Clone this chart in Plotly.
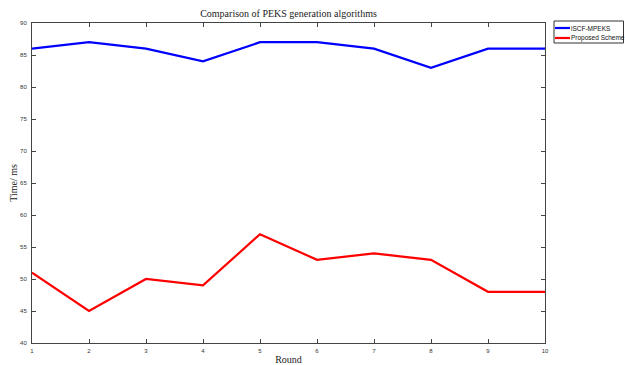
import plotly.graph_objects as go

rounds = [1, 2, 3, 4, 5, 6, 7, 8, 9, 10]
iscf_mpeks = [86, 87, 86, 84, 87, 87, 86, 83, 86, 86]
proposed = [51, 45, 50, 49, 57, 53, 54, 53, 48, 48]
y_ticks = [40, 45, 50, 55, 60, 65, 70, 75, 80, 85, 90]
series_names = ["iSCF-MPEKS", "Proposed Scheme"]
series_colors = ["#0000ff", "#ff0000"]

W, H = 625, 365
L, T = 32, 23
R, B = 625 - 545, 365 - 343
PW, PH = W - L - R, H - T - B

def px_x(p):  # pixel -> paper x
    return (p - L) / PW

def px_y(p):  # pixel -> paper y
    return (H - B - p) / PH

fig = go.Figure()
for name, vals, col in zip(series_names, [iscf_mpeks, proposed], series_colors):
    fig.add_trace(go.Scatter(x=rounds, y=vals, mode="lines", name=name,
                             line=dict(color=col, width=2.2), showlegend=False))

axis_common = dict(showline=True, linecolor="#444444", linewidth=1, mirror="ticks",
                   ticks="inside", ticklen=4, tickcolor="#444444", showgrid=False,
                   zeroline=False, automargin=False,
                   tickfont=dict(family="Liberation Sans", size=6, color="#333333"))

# manual legend (box, sample lines, labels)
shapes = [dict(type="rect", xref="paper", yref="paper",
               x0=px_x(554), x1=px_x(623.5), y0=px_y(43), y1=px_y(21),
               line=dict(color="#333333", width=1), fillcolor="white", layer="above")]
annotations = []
for i, (name, col) in enumerate(zip(series_names, series_colors)):
    yy = px_y(28 + 10 * i)
    shapes.append(dict(type="line", xref="paper", yref="paper",
                       x0=px_x(555), x1=px_x(570), y0=yy, y1=yy,
                       line=dict(color=col, width=2.2), layer="above"))
    annotations.append(dict(xref="paper", yref="paper", x=px_x(569), y=yy,
                            xanchor="left", yanchor="middle", showarrow=False,
                            text=name, font=dict(family="Liberation Sans", size=6.5, color="#111111")))

fig.update_layout(
    width=W, height=H,
    margin=dict(l=L, r=R, t=T, b=B),
    paper_bgcolor="white", plot_bgcolor="white",
    title=dict(text="Comparison of PEKS generation algorithms", xref="paper", x=0.5,
               xanchor="center", yref="container", y=1 - 13 / H, yanchor="middle",
               font=dict(family="Liberation Serif", size=10, color="#222222")),
    xaxis=dict(range=[1, 10], tickvals=rounds, ticklabelstandoff=2,
               title=dict(text="Round", standoff=3,
                          font=dict(family="Liberation Serif", size=10, color="#222222")),
               **axis_common),
    yaxis=dict(range=[40, 90], tickvals=y_ticks, ticklabelstandoff=3,
               title=dict(text="Time/ ms", standoff=0,
                          font=dict(family="Liberation Serif", size=10, color="#222222")),
               **axis_common),
    shapes=shapes,
    annotations=annotations,
    showlegend=False,
)

fig.write_html("out.html", config={"displayModeBar": False},
               post_script="document.body.style.margin='0';document.body.style.overflow='hidden';")
